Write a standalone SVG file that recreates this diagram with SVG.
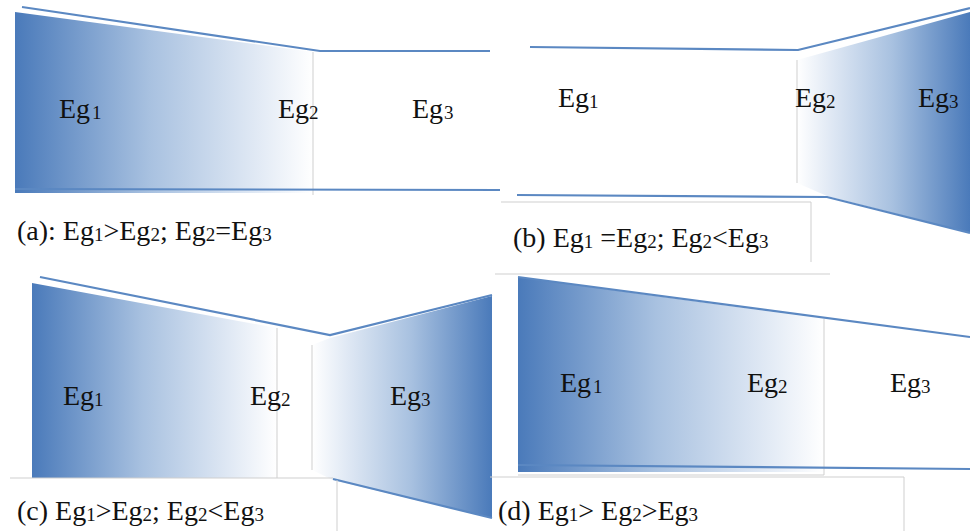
<svg xmlns="http://www.w3.org/2000/svg" width="970" height="531" viewBox="0 0 970 531">
<defs>
<linearGradient id="gR" x1="0" y1="0" x2="1" y2="0">
<stop offset="0" stop-color="#4a7aba"/>
<stop offset="0.45" stop-color="#a8c1e0"/>
<stop offset="0.8" stop-color="#dfe8f4"/>
<stop offset="1" stop-color="#ffffff"/>
</linearGradient>
<linearGradient id="gL" x1="1" y1="0" x2="0" y2="0">
<stop offset="0" stop-color="#4a7aba"/>
<stop offset="0.45" stop-color="#a8c1e0"/>
<stop offset="0.8" stop-color="#dfe8f4"/>
<stop offset="1" stop-color="#ffffff"/>
</linearGradient>
<style>
.bl{fill:none;stroke:#5b88c2;stroke-width:2.2}
.gr{fill:none;stroke:#cfcfcf;stroke-width:1}
text{font-family:"Liberation Serif","Times New Roman",serif;fill:#111}
.lb{font-size:28px}
.cp{font-size:28px}
.s{font-size:19px}
</style>
</defs>
<rect width="970" height="531" fill="#ffffff"/>

<g id="panel-a">
<polygon points="15,12 313,52 313,193 15,193" fill="url(#gR)"/>
<line class="gr" x1="313" y1="52" x2="313" y2="195"/>
<polyline class="bl" points="22,7 320,51 490,51"/>
<line class="bl" x1="15" y1="189" x2="500" y2="190"/>
<text class="lb" x="59" y="118">Eg<tspan class="s" dx="2" dy="1">1</tspan></text>
<text class="lb" x="278" y="118">Eg<tspan class="s" dy="1">2</tspan></text>
<text class="lb" x="412" y="118">Eg<tspan class="s" dx="1" dy="1">3</tspan></text>
<text class="cp" x="17" y="240">(a): Eg<tspan class="s" dy="1">1</tspan><tspan dy="-1">&gt;Eg</tspan><tspan class="s" dy="1">2</tspan><tspan dy="-1">; Eg</tspan><tspan class="s" dy="1">2</tspan><tspan dy="-1">=Eg</tspan><tspan class="s" dy="1">3</tspan></text>
</g>

<g id="panel-b">
<polygon points="797,60 970,12 970,233 827,196 797,183" fill="url(#gL)"/>
<line class="gr" x1="797" y1="60" x2="797" y2="183"/>
<polyline class="bl" points="530,47 798,50 970,8"/>
<polyline class="bl" points="517,195 827,197 970,233"/>
<polyline class="gr" points="501,202 811,202 811,262"/>
<line class="gr" x1="495" y1="274" x2="830" y2="274"/>
<text class="lb" x="558" y="107">Eg<tspan class="s" dy="1">1</tspan></text>
<text class="lb" x="795" y="107">Eg<tspan class="s" dy="1">2</tspan></text>
<text class="lb" x="918" y="107">Eg<tspan class="s" dy="1">3</tspan></text>
<text class="cp" x="513" y="247">(b)  Eg<tspan class="s" dy="1">1</tspan><tspan dy="-1"> =Eg</tspan><tspan class="s" dy="1">2</tspan><tspan dy="-1">; Eg</tspan><tspan class="s" dy="1">2</tspan><tspan dy="-1">&lt;Eg</tspan><tspan class="s" dy="1">3</tspan></text>
</g>

<g id="panel-c">
<polygon points="32,283 277,328 277,478 32,478" fill="url(#gR)"/>
<line class="gr" x1="277" y1="328" x2="277" y2="478"/>
<polygon points="312,345 330,338 492,296 492,518 333,480 312,470" fill="url(#gL)"/>
<line class="gr" x1="312" y1="345" x2="312" y2="470"/>
<polyline class="bl" points="40,277 330,335 492,295"/>
<line class="bl" x1="333" y1="479" x2="492" y2="518"/>
<line class="gr" x1="10" y1="478" x2="333" y2="478"/>
<line class="gr" x1="337" y1="480" x2="337" y2="531"/>
<text class="lb" x="63" y="405">Eg<tspan class="s" dy="1">1</tspan></text>
<text class="lb" x="250" y="405">Eg<tspan class="s" dy="1">2</tspan></text>
<text class="lb" x="390" y="405">Eg<tspan class="s" dy="1">3</tspan></text>
<text class="cp" x="17" y="520">(c)  Eg<tspan class="s" dy="1">1</tspan><tspan dy="-1">&gt;Eg</tspan><tspan class="s" dy="1">2</tspan><tspan dy="-1">; Eg</tspan><tspan class="s" dy="1">2</tspan><tspan dy="-1">&lt;Eg</tspan><tspan class="s" dy="1">3</tspan></text>
</g>

<g id="panel-d">
<polygon points="518,277 824,319 824,472 518,472" fill="url(#gR)"/>
<polyline class="gr" points="824,319 824,475 518,475"/>
<line class="bl" x1="518" y1="277" x2="970" y2="337"/>
<line class="bl" x1="518" y1="465" x2="970" y2="469"/>
<polyline class="gr" points="490,477 904,477 904,531"/>
<text class="lb" x="560" y="392">Eg<tspan class="s" dx="2" dy="1">1</tspan></text>
<text class="lb" x="747" y="392">Eg<tspan class="s" dy="1">2</tspan></text>
<text class="lb" x="890" y="392">Eg<tspan class="s" dy="1">3</tspan></text>
<text class="cp" x="498" y="520">(d)  Eg<tspan class="s" dy="1">1</tspan><tspan dy="-1">&gt; Eg</tspan><tspan class="s" dy="1">2</tspan><tspan dy="-1">&gt;Eg</tspan><tspan class="s" dy="1">3</tspan></text>
</g>
</svg>
